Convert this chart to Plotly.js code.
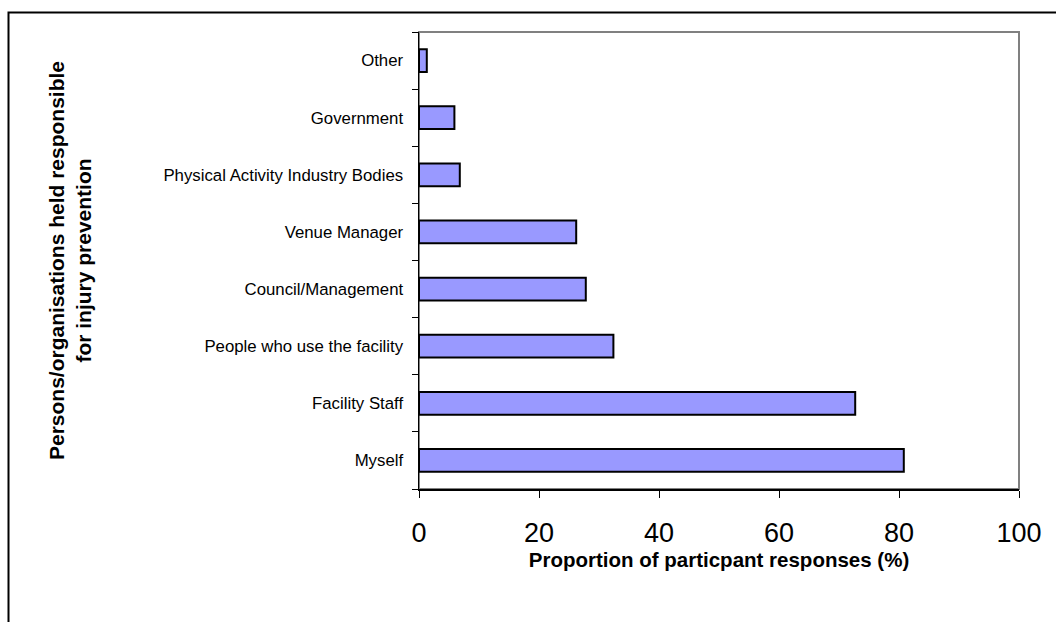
<!DOCTYPE html>
<html>
<head>
<meta charset="utf-8">
<script src="https://cdn.plot.ly/plotly-3.0.1.min.js"></script>
<style>html,body{margin:0;padding:0;background:#fff;}#chart{width:1056px;height:622px;}</style>
</head>
<body>
<div id="chart"></div>
<script>
const categories = [
  "Myself",
  "Facility Staff",
  "People who use the facility",
  "Council/Management",
  "Venue Manager",
  "Physical Activity Industry Bodies",
  "Government",
  "Other"
];
const values = [80.8, 72.7, 32.4, 27.8, 26.2, 6.8, 5.9, 1.3];
const xTicks = [0, 20, 40, 60, 80, 100];
const xTitle = "Proportion of particpant responses (%)";
const yTitle = "Persons/organisations held responsible<br>for injury prevention";

const W = 1056, H = 622;
const L = 419, R = 1019, T = 32, B = 489;
const pw = R - L, ph = B - T;
const px = v => (v - L) / pw;
const py = v => (B - v) / ph;

const trace = {
  type: "bar",
  orientation: "h",
  x: values,
  y: categories,
  width: 0.4,
  marker: {color: "#9999FF", line: {color: "#000000", width: 2}},
  hoverinfo: "x+y"
};

const layout = {
  width: W, height: H,
  margin: {l: L, r: W - R, t: T, b: H - B, pad: 0},
  paper_bgcolor: "#ffffff",
  plot_bgcolor: "#ffffff",
  showlegend: false,
  font: {family: "Liberation Sans, Arial, sans-serif", color: "#000"},
  xaxis: {
    range: [0, 100],
    tickvals: xTicks,
    ticktext: xTicks.map(String),
    ticks: "outside", ticklen: 7, tickwidth: 1, tickcolor: "#000",
    ticklabelstandoff: 12,
    tickfont: {size: 27, family: "Liberation Sans, Arial, sans-serif"},
    showgrid: false, zeroline: false,
    showline: true, linecolor: "#000", linewidth: 1.5,
    title: {text: xTitle, font: {size: 20.5, family: "Liberation Sans, Arial, sans-serif", weight: "bold"}, standoff: 1},
    automargin: false,
    fixedrange: true
  },
  yaxis: {
    type: "category",
    categoryorder: "array",
    categoryarray: categories,
    tickson: "boundaries",
    ticks: "outside", ticklen: 6, tickwidth: 1, tickcolor: "#000",
    ticklabelstandoff: 11,
    tickfont: {size: 16.8, family: "Liberation Sans, Arial, sans-serif"},
    showgrid: false, zeroline: false,
    showline: true, linecolor: "#000", linewidth: 1.5,
    title: {text: yTitle, font: {size: 21, family: "Liberation Sans, Arial, sans-serif", weight: "bold"}, standoff: 66},
    automargin: true,
    fixedrange: true
  },
  shapes: [
    {type: "rect", xref: "paper", yref: "paper", x0: 0, x1: 1, y0: 0, y1: 1,
     line: {color: "#808080", width: 2}, fillcolor: "rgba(0,0,0,0)", layer: "below"},
    {type: "rect", xref: "paper", yref: "paper",
     x0: px(8.5), x1: px(1070), y0: py(640), y1: py(12.5),
     line: {color: "#000", width: 2}, fillcolor: "rgba(0,0,0,0)", layer: "below"}
  ]
};

Plotly.newPlot("chart", [trace], layout, {staticPlot: true, displayModeBar: false});
</script>
</body>
</html>
